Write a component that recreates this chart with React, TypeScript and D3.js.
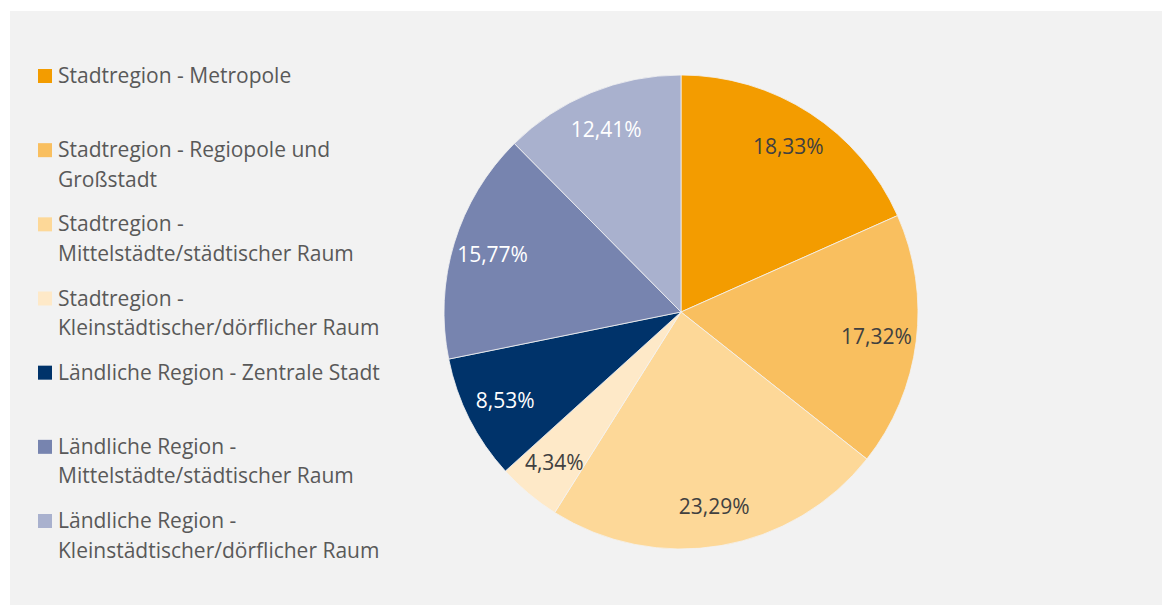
import { useEffect, useRef } from "react";
import * as d3 from "d3";

// Anteile je Raumtyp (in %)
const categories = [
  ["Stadtregion - Metropole"],
  ["Stadtregion - Regiopole und", "Großstadt"],
  ["Stadtregion -", "Mittelstädte/städtischer Raum"],
  ["Stadtregion -", "Kleinstädtischer/dörflicher Raum"],
  ["Ländliche Region - Zentrale Stadt"],
  ["Ländliche Region -", "Mittelstädte/städtischer Raum"],
  ["Ländliche Region -", "Kleinstädtischer/dörflicher Raum"],
];
const values = [18.33, 17.32, 23.29, 4.34, 8.53, 15.77, 12.41];
const colors = ["#F39C00", "#F9BF5F", "#FDD898", "#FEE9C8", "#00336A", "#7784AF", "#A9B1CE"];
const labelColors = ["#404040", "#404040", "#404040", "#404040", "#ffffff", "#ffffff", "#ffffff"];

const App = () => {
  const ref = useRef<SVGSVGElement>(null);

  useEffect(() => {
    const width = 1162;
    const height = 605;
    const font = "'Open Sans', sans-serif";

    const svg = d3.select(ref.current).attr("width", width).attr("height", height);
    svg.selectAll("*").remove();

    // Hintergrund
    svg
      .append("rect")
      .attr("x", 10)
      .attr("y", 11)
      .attr("width", width - 10)
      .attr("height", height - 11)
      .attr("fill", "#F2F2F2");

    // Kreisdiagramm
    const cx = 681;
    const cy = 312;
    const radius = 237;

    const pie = d3
      .pie<number>()
      .sort(null)
      .value((d) => d);
    const arcs = pie(values);
    const arc = d3.arc<d3.PieArcDatum<number>>().innerRadius(0).outerRadius(radius);
    const labelArc = d3.arc<d3.PieArcDatum<number>>().innerRadius(197).outerRadius(197);

    const g = svg.append("g").attr("transform", `translate(${cx},${cy})`);

    g.selectAll("path")
      .data(arcs)
      .enter()
      .append("path")
      .attr("d", arc)
      .attr("fill", (d, i) => colors[i])
      .attr("stroke", "#F2F2F2")
      .attr("stroke-width", 0.8);

    g.selectAll("text")
      .data(arcs)
      .enter()
      .append("text")
      .attr("transform", (d) => `translate(${labelArc.centroid(d)})`)
      .attr("text-anchor", "middle")
      .attr("dy", "0.35em")
      .attr("font-family", font)
      .attr("font-size", 21)
      .attr("fill", (d, i) => labelColors[i])
      .text((d) => d3.format(".2f")(d.data).replace(".", ",") + "%");

    // Legende
    const legend = svg.append("g").attr("transform", "translate(38,0)");
    const itemY = d3
      .scaleLinear()
      .domain([0, categories.length - 1])
      .range([69, 514]);

    categories.forEach((lines, i) => {
      const item = legend.append("g").attr("transform", `translate(0,${itemY(i)})`);
      item
        .append("rect")
        .attr("x", 0)
        .attr("y", 0)
        .attr("width", 14)
        .attr("height", 14)
        .attr("fill", colors[i]);
      const text = item
        .append("text")
        .attr("x", 20)
        .attr("y", 14)
        .attr("font-family", font)
        .attr("font-size", 21)
        .attr("fill", "#595959");
      lines.forEach((line, j) => {
        text
          .append("tspan")
          .attr("x", 20)
          .attr("dy", j === 0 ? 0 : 29.5)
          .text(line);
      });
    });
  }, []);

  return (
    <svg ref={ref} style={{ position: "absolute", left: 0, top: 0 }}></svg>
  );
};

export default App;
